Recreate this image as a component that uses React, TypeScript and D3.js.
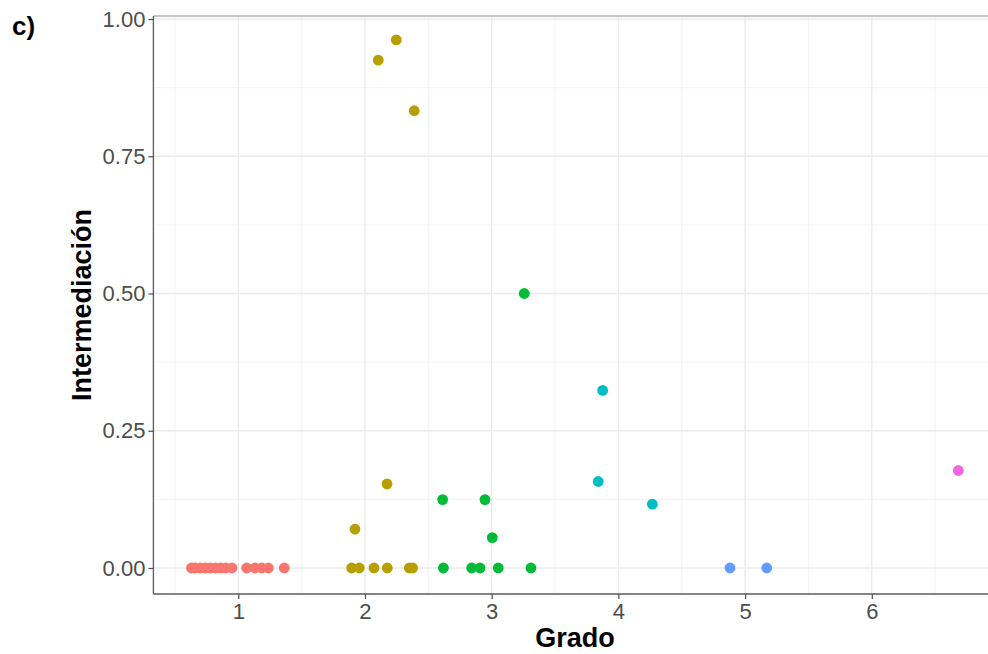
import React, { useEffect, useRef } from 'react';
import * as d3 from 'd3';

// Grado (x) and Intermediación (y), one array pair per group
const grupo1X = [0.63, 0.66, 0.7, 0.74, 0.78, 0.82, 0.86, 0.9, 0.95, 1.066, 1.132, 1.185, 1.237, 1.363];
const grupo1Y = [0, 0, 0, 0, 0, 0, 0, 0, 0, 0, 0, 0, 0, 0];
const grupo2X = [1.895, 1.955, 2.071, 2.176, 2.35, 2.376, 1.921, 2.174, 2.105, 2.247, 2.389];
const grupo2Y = [0, 0, 0, 0, 0, 0, 0.0706, 0.153, 0.925, 0.962, 0.833];
const grupo3X = [2.619, 2.842, 2.908, 3.052, 3.31, 2.613, 2.947, 3.005, 3.257];
const grupo3Y = [0, 0, 0, 0, 0, 0.1246, 0.1246, 0.0553, 0.5];
const grupo4X = [3.876, 3.841, 4.268];
const grupo4Y = [0.3235, 0.1575, 0.1162];
const grupo5X = [4.881, 5.171];
const grupo5Y = [0, 0];
const grupo6X = [6.683];
const grupo6Y = [0.1776];

const groupColors = ['#F8766D', '#B79F00', '#00BA38', '#00BFC4', '#619CFF', '#F564E3'];

const xTicks = [1, 2, 3, 4, 5, 6];
const xMinor = [0.5, 1.5, 2.5, 3.5, 4.5, 5.5, 6.5];
const yTicks = [0, 0.25, 0.5, 0.75, 1];
const yMinor = [0.125, 0.375, 0.625, 0.875];

const W = 988;
const H = 654;

export default function App() {
  const ref = useRef<SVGSVGElement>(null);

  useEffect(() => {
    const svg = d3.select(ref.current);
    svg.selectAll('*').remove();

    const groups = [
      [grupo1X, grupo1Y],
      [grupo2X, grupo2Y],
      [grupo3X, grupo3Y],
      [grupo4X, grupo4Y],
      [grupo5X, grupo5Y],
      [grupo6X, grupo6Y],
    ];
    const points = groups.flatMap(([xs, ys], g) => xs.map((x, i) => ({ x, y: ys[i], g })));

    // panel spans past the right edge of the picture (cropped)
    const left = 153.4, right = 996.7, top = 16, bottom = 594;
    const xScale = d3.scaleLinear().domain([0.33, 6.986]).range([left, right]);
    const yScale = d3.scaleLinear().domain([-0.0474, 1.0055]).range([bottom, top]);

    const font = 'Arial, "Liberation Sans", sans-serif';

    // grid
    const grid = svg.append('g');
    grid.selectAll('.xminor').data(xMinor).enter().append('line')
      .attr('x1', d => xScale(d)).attr('x2', d => xScale(d))
      .attr('y1', top).attr('y2', bottom)
      .attr('stroke', '#F0F0F0').attr('stroke-width', 0.8);
    grid.selectAll('.yminor').data(yMinor).enter().append('line')
      .attr('x1', left).attr('x2', right)
      .attr('y1', d => yScale(d)).attr('y2', d => yScale(d))
      .attr('stroke', '#F0F0F0').attr('stroke-width', 0.8);
    grid.selectAll('.xmajor').data(xTicks).enter().append('line')
      .attr('x1', d => xScale(d)).attr('x2', d => xScale(d))
      .attr('y1', top).attr('y2', bottom)
      .attr('stroke', '#EBEBEB').attr('stroke-width', 1.4);
    grid.selectAll('.ymajor').data(yTicks).enter().append('line')
      .attr('x1', left).attr('x2', right)
      .attr('y1', d => yScale(d)).attr('y2', d => yScale(d))
      .attr('stroke', '#EBEBEB').attr('stroke-width', 1.4);

    // points
    svg.append('g')
      .selectAll('circle')
      .data(points).enter()
      .append('circle')
      .attr('cx', d => xScale(d.x))
      .attr('cy', d => yScale(d.y))
      .attr('r', 5.4)
      .attr('fill', d => groupColors[d.g]);

    // panel border
    svg.append('line')
      .attr('x1', left).attr('x2', right).attr('y1', top).attr('y2', top)
      .attr('stroke', '#8C8C8C').attr('stroke-width', 1.2);

    // axes
    const xAxis = svg.append('g')
      .attr('transform', `translate(0,${bottom})`)
      .call(d3.axisBottom(xScale).tickValues(xTicks).tickFormat(d3.format('d')).tickSize(5).tickPadding(4));
    const yAxis = svg.append('g')
      .attr('transform', `translate(${left},0)`)
      .call(d3.axisLeft(yScale).tickValues(yTicks).tickFormat(d3.format('.2f')).tickSize(5).tickPadding(3));

    [xAxis, yAxis].forEach(ax => {
      ax.select('.domain').attr('stroke', '#5A5A5A').attr('stroke-width', 1.3);
      ax.selectAll('.tick line').attr('stroke', '#4D4D4D').attr('stroke-width', 1.2);
      ax.selectAll('.tick text')
        .attr('fill', '#4D4D4D')
        .style('font-family', font)
        .style('font-size', '22px');
    });
    xAxis.select('.domain').attr('d', `M${left},0H${right}`);
    yAxis.select('.domain').attr('d', `M0,${top}V${bottom}`);

    // axis titles
    svg.append('text')
      .attr('x', (left + right) / 2)
      .attr('y', 647)
      .attr('text-anchor', 'middle')
      .style('font-family', font)
      .style('font-weight', 'bold')
      .style('font-size', '27px')
      .text('Grado');

    svg.append('text')
      .attr('transform', `translate(91,${(top + bottom) / 2}) rotate(-90)`)
      .attr('text-anchor', 'middle')
      .style('font-family', font)
      .style('font-weight', 'bold')
      .style('font-size', '27px')
      .text('Intermediación');

    svg.append('text')
      .attr('x', 12)
      .attr('y', 35)
      .style('font-family', font)
      .style('font-weight', 'bold')
      .style('font-size', '26px')
      .text('c)');
  }, []);

  return (
    <svg
      ref={ref}
      width={W}
      height={H}
      style={{ position: 'absolute', left: 0, top: 0, background: '#fff' }}
    />
  );
}
